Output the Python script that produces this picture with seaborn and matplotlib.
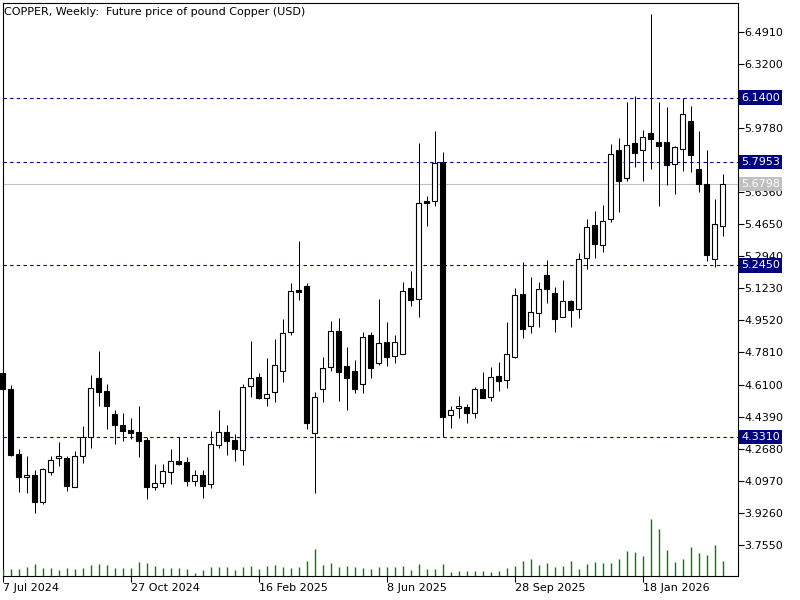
import numpy as np
import pandas as pd
import seaborn as sns
import matplotlib
matplotlib.use("Agg")
import matplotlib.pyplot as plt

# weekly OHLC (first bar = 7 Jul 2024)
opens = [4.670, 4.586, 4.240, 4.116, 4.128, 3.986, 4.146, 4.218, 4.219, 4.066,
         4.228, 4.332, 4.643, 4.576, 4.453, 4.395, 4.368, 4.356, 4.315, 4.066,
         4.087, 4.146, 4.201, 4.197, 4.098, 4.128, 4.079, 4.286, 4.356, 4.315,
         4.260, 4.601, 4.649, 4.537, 4.572, 4.684, 4.889, 5.114, 5.135, 4.350,
         4.585, 4.705, 4.895, 4.709, 4.682, 4.611, 4.873, 4.723, 4.835, 4.764,
         4.771, 5.123, 5.065, 5.589, 5.590, 5.795, 4.449, 4.483, 4.490, 4.460,
         4.586, 4.545, 4.656, 4.633, 4.757, 5.093, 4.924, 4.990, 5.194, 5.097,
         4.972, 5.054, 5.011, 5.283, 5.461, 5.354, 5.491, 5.859, 5.710, 5.896,
         5.859, 5.949, 5.905, 5.901, 5.784, 5.864, 6.015, 5.759, 5.681, 5.278,
         5.457]
highs = [4.675, 4.607, 4.267, 4.229, 4.155, 4.167, 4.229, 4.304, 4.229, 4.256,
         4.389, 4.663, 4.789, 4.613, 4.474, 4.457, 4.432, 4.496, 4.332, 4.185,
         4.185, 4.267, 4.332, 4.226, 4.155, 4.155, 4.361, 4.474, 4.395, 4.347,
         4.613, 4.842, 4.670, 4.750, 4.853, 4.960, 5.150, 5.375, 5.150, 4.569,
         4.757, 4.949, 4.963, 4.809, 4.741, 4.890, 4.892, 5.066, 4.944, 4.873,
         5.155, 5.214, 5.896, 5.615, 5.962, 5.848, 4.496, 4.549, 4.506, 4.599,
         4.677, 4.704, 4.730, 4.945, 5.126, 5.265, 5.183, 5.157, 5.276, 5.130,
         5.168, 5.061, 5.310, 5.491, 5.535, 5.569, 5.892, 5.926, 6.115, 6.150,
         5.967, 6.585, 6.115, 6.088, 5.882, 6.140, 6.095, 5.962, 5.860, 5.599,
         5.732]
lows = [4.583, 4.229, 4.039, 4.034, 3.924, 3.972, 4.130, 4.176, 4.044, 4.062,
        4.194, 4.274, 4.497, 4.373, 4.293, 4.311, 4.320, 4.226, 4.000, 4.048,
        4.066, 4.080, 4.183, 4.071, 4.071, 4.007, 4.060, 4.274, 4.235, 4.204,
        4.183, 4.542, 4.533, 4.497, 4.519, 4.625, 4.876, 5.060, 4.373, 4.030,
        4.519, 4.684, 4.524, 4.474, 4.567, 4.563, 4.647, 4.714, 4.711, 4.727,
        4.771, 5.030, 4.972, 5.455, 5.564, 4.331, 4.377, 4.430, 4.407, 4.433,
        4.537, 4.522, 4.577, 4.593, 4.750, 4.860, 4.883, 4.915, 5.043, 4.889,
        4.969, 4.915, 4.963, 5.225, 5.283, 5.318, 5.478, 5.532, 5.697, 5.771,
        5.695, 5.761, 5.562, 5.675, 5.627, 5.750, 5.745, 5.638, 5.270, 5.238,
        5.404]
closes = [4.585, 4.234, 4.116, 4.128, 3.986, 4.160, 4.208, 4.230, 4.071, 4.229,
          4.332, 4.590, 4.572, 4.497, 4.395, 4.364, 4.350, 4.311, 4.066, 4.084,
          4.148, 4.201, 4.187, 4.098, 4.128, 4.071, 4.292, 4.356, 4.311, 4.265,
          4.595, 4.643, 4.540, 4.558, 4.714, 4.883, 5.107, 5.105, 4.404, 4.542,
          4.697, 4.895, 4.679, 4.647, 4.585, 4.864, 4.697, 4.830, 4.755, 4.835,
          5.107, 5.062, 5.576, 5.580, 5.790, 4.439, 4.474, 4.496, 4.460, 4.586,
          4.540, 4.649, 4.631, 4.771, 5.086, 4.905, 4.997, 5.118, 5.118, 4.958,
          5.054, 5.006, 5.278, 5.452, 5.358, 5.484, 5.837, 5.697, 5.885, 5.843,
          5.931, 5.921, 5.883, 5.782, 5.876, 6.051, 5.834, 5.678, 5.301, 5.466,
          5.680]
volumes = [21, 21, 21, 27, 36, 24, 24, 18, 24, 21, 24, 33, 36, 33, 24, 24, 24, 42, 39, 30,
           24, 24, 24, 21, 9, 18, 27, 27, 27, 18, 27, 30, 21, 30, 33, 27, 24, 27, 45, 81,
           33, 39, 27, 30, 27, 24, 21, 27, 27, 27, 30, 18, 36, 21, 21, 36, 12, 15, 15, 15,
           15, 12, 15, 24, 30, 45, 51, 33, 39, 27, 30, 45, 21, 36, 42, 39, 39, 51, 75, 72,
           60, 171, 141, 78, 42, 51, 87, 69, 63, 93, 45]

date_ticks = [0, 16, 32, 48, 64, 80]
date_labels = ["7 Jul 2024", "27 Oct 2024", "16 Feb 2025", "8 Jun 2025",
               "28 Sep 2025", "18 Jan 2026"]
price_ticks = [3.755, 3.926, 4.097, 4.268, 4.439, 4.610, 4.781, 4.952, 5.123,
               5.294, 5.465, 5.636, 5.807, 5.978, 6.149, 6.320, 6.491]
# these two sit under the level boxes and are not shown
hidden_ticks = [5.807, 6.149]
levels = [6.1400, 5.7953, 5.2450, 4.3310]
last_price = 5.6798
title = "COPPER, Weekly:  Future price of pound Copper (USD)"

df = pd.DataFrame({"open": opens, "high": highs, "low": lows,
                   "close": closes, "volume": volumes})
df["x"] = np.arange(len(df))
df["up"] = df["close"] >= df["open"]

sns.set_theme(style="white")
plt.rcParams["font.family"] = ["DejaVu Sans"]

fig = plt.figure(figsize=(8, 6), dpi=100)
ax = fig.add_axes([2.5 / 800, 24 / 600, 735 / 800, 573.5 / 600])
# volume axis first (twinx moves the host's ticks to the left otherwise)
vax = ax.twinx()

# wicks
ax.vlines(df["x"], df["low"], df["high"], color="black", linewidth=0.72,
          zorder=2, clip_on=False, snap=True)
# bodies
body_lo = df[["open", "close"]].min(axis=1)
body_h = (df["close"] - df["open"]).abs().clip(lower=0.004)
ax.bar(df["x"], body_h, bottom=body_lo, width=0.6,
       color=np.where(df["up"], "white", "black"), edgecolor="black",
       linewidth=0.8, zorder=3, clip_on=False)

for lv in levels:
    ax.axhline(lv, color="#000080", linewidth=0.8, linestyle=(0, (3, 3)), zorder=1)
ax.axhline(last_price, color="#C0C0C0", linewidth=0.8, zorder=1)

ax.set_xlim(-0.025, -0.025 + 735 / 8)
ax.set_ylim(3.5896, 6.6467)

ax.set_yticks(price_ticks, ["" if t in hidden_ticks else f"{t:.4f}" for t in price_ticks])
ax.set_xticks(date_ticks, date_labels, ha="left")
ax.yaxis.tick_right()
ax.tick_params(axis="both", which="both", direction="out", length=4, width=0.8,
               color="black", labelsize=8, labelcolor="black", pad=1)
ax.tick_params(axis="y", left=False, labelleft=False, right=True, labelright=True)
ax.tick_params(axis="x", bottom=True, labelbottom=True, top=False)
for s in ax.spines.values():
    s.set_color("black")
    s.set_linewidth(0.8)
ax.grid(False)

for lv, fc in [(v, "#000080") for v in levels] + [(last_price, "#C0C0C0")]:
    ax.annotate(f"{lv:.4f}", xy=(1.0, lv), xycoords=("axes fraction", "data"),
                xytext=(2.5, 0), textcoords="offset points", ha="left", va="center",
                fontsize=8, color="white", zorder=5, annotation_clip=False,
                bbox=dict(boxstyle="square,pad=0.2", fc=fc, ec="none"))

# volumes at the bottom
vax.vlines(df["x"], 0, df["volume"], color="#008000", linewidth=1.0, snap=True)
vax.set_ylim(0, 171 * 573.5 / 57)
vax.set_xlim(ax.get_xlim())
vax.set_yticks([])
vax.tick_params(axis="y", left=False, right=False, labelleft=False, labelright=False)
for s in vax.spines.values():
    s.set_visible(False)

fig.text(4 / 800, 1 - 12 / 600, title, fontsize=8, va="center", ha="left",
         color="black")

fig.savefig("out.png", dpi=100)
